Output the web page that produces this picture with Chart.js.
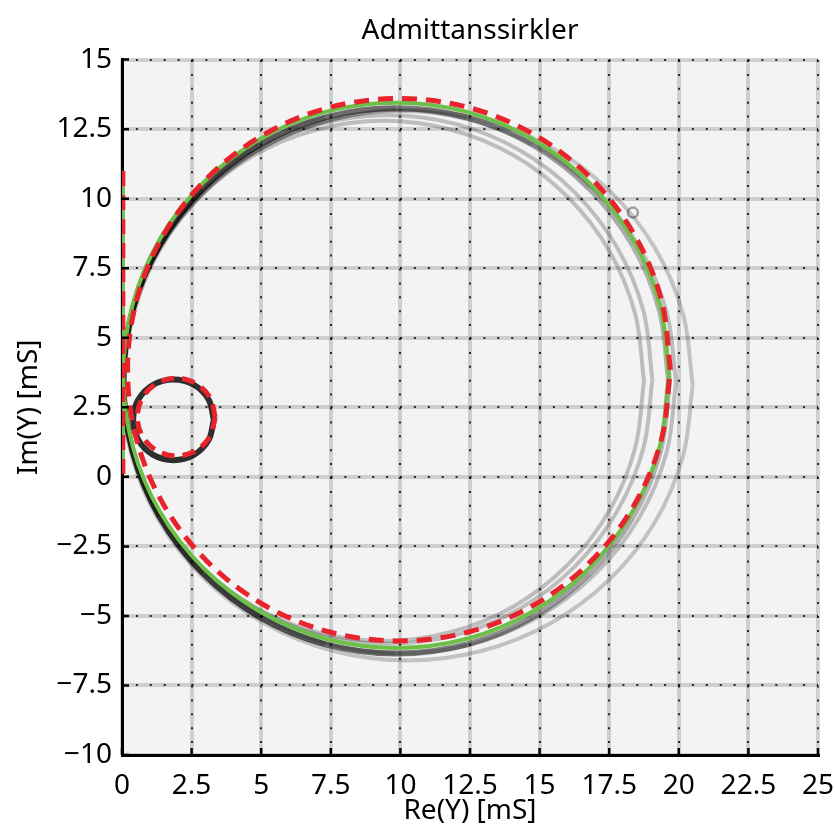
<!doctype html>
<html>
<head>
<meta charset="utf-8">
<script src="https://cdn.jsdelivr.net/npm/chart.js@4.4.1/dist/chart.umd.min.js"></script>
<style>
  body { margin: 0; background: #fff; }
  #wrap { width: 835px; height: 832px; }
</style>
</head>
<body>
<div id="wrap"><canvas id="admittance"></canvas></div>
<script>
// tick positions, mS
const reTicks = [0, 2.5, 5, 7.5, 10, 12.5, 15, 17.5, 20, 22.5, 25];
const imTicks = [-10, -7.5, -5, -2.5, 0, 2.5, 5, 7.5, 10, 12.5, 15];

// fitted circles, [Re(Y), Im(Y)]
const fitGreen = [
  [19.65, 3.65], [19.32, 6.19], [18.34, 8.55], [16.78, 10.58], [14.75, 12.14], [12.39, 13.12],
  [9.85, 13.45], [7.31, 13.12], [4.95, 12.14], [2.92, 10.58], [1.36, 8.55], [0.38, 6.19],
  [0.05, 3.65], [0.38, 1.11], [1.36, -1.25], [2.92, -3.28], [4.95, -4.84], [7.31, -5.82],
  [9.85, -6.15], [12.39, -5.82], [14.75, -4.84], [16.78, -3.28], [18.34, -1.25], [19.32, 1.11]
];
const fitRed = [
  [19.70, 3.85], [19.37, 6.38], [18.39, 8.73], [16.84, 10.74], [14.83, 12.29], [12.48, 13.27],
  [9.95, 13.60], [7.42, 13.27], [5.07, 12.29], [3.06, 10.74], [1.51, 8.73], [0.53, 6.38],
  [0.20, 3.85], [0.53, 1.32], [1.51, -1.03], [3.06, -3.04], [5.07, -4.59], [7.42, -5.57],
  [9.95, -5.90], [12.48, -5.57], [14.83, -4.59], [16.84, -3.04], [18.39, -1.03], [19.37, 1.32]
];
const fitRedSmall = [
  [3.35, 2.15], [3.16, 2.85], [2.65, 3.36], [1.95, 3.55], [1.25, 3.36], [0.74, 2.85],
  [0.55, 2.15], [0.74, 1.45], [1.25, 0.94], [1.95, 0.75], [2.65, 0.94], [3.16, 1.45]
];
// line along the imaginary axis
const imAxisLine = [[0.03, 0.1], [0.03, 11.0]];

// measured traces in the scanned plot
const traceMain = [
  [19.65, 3.45], [19.32, 5.99], [18.34, 8.35], [16.78, 10.38], [14.75, 11.94], [12.39, 12.92],
  [9.85, 13.25], [7.31, 12.92], [4.95, 11.94], [2.92, 10.38], [1.36, 8.35], [0.38, 5.99],
  [0.05, 3.45], [0.38, 0.91], [1.36, -1.45], [2.92, -3.48], [4.95, -5.04], [7.31, -6.02],
  [9.85, -6.35], [12.39, -6.02], [14.75, -5.04], [16.78, -3.48], [18.34, -1.45], [19.32, 0.91]
];
const traceInner = [
  [18.75, 3.45], [18.43, 5.87], [17.50, 8.13], [16.01, 10.06], [14.08, 11.55], [11.82, 12.48],
  [9.40, 12.80], [6.98, 12.48], [4.72, 11.55], [2.79, 10.06], [1.30, 8.13], [0.37, 5.87],
  [0.05, 3.45], [0.37, 1.03], [1.30, -1.23], [2.79, -3.16], [4.72, -4.65], [6.98, -5.58],
  [9.40, -5.90], [11.82, -5.58], [14.08, -4.65], [16.01, -3.16], [17.50, -1.23], [18.43, 1.03]
];
const traceMid = [
  [19.05, 3.50], [18.73, 5.96], [17.78, 8.25], [16.27, 10.22], [14.30, 11.73], [12.01, 12.68],
  [9.55, 13.00], [7.09, 12.68], [4.80, 11.73], [2.83, 10.22], [1.32, 8.25], [0.37, 5.96],
  [0.05, 3.50], [0.37, 1.04], [1.32, -1.25], [2.83, -3.22], [4.80, -4.73], [7.09, -5.68],
  [9.55, -6.00], [12.01, -5.68], [14.30, -4.73], [16.27, -3.22], [17.78, -1.25], [18.73, 1.04]
];
const traceOuter = [
  [19.90, 3.40], [19.56, 5.93], [18.57, 8.28], [17.00, 10.29], [14.95, 11.84], [12.56, 12.82],
  [10.00, 13.15], [7.44, 12.82], [5.05, 11.84], [3.00, 10.29], [1.43, 8.28], [0.44, 5.93],
  [0.10, 3.40], [0.44, 0.87], [1.43, -1.48], [3.00, -3.49], [5.05, -5.04], [7.44, -6.02],
  [10.00, -6.35], [12.56, -6.02], [14.95, -5.04], [17.00, -3.49], [18.57, -1.48], [19.56, 0.87]
];
const traceOuter2 = [
  [20.50, 3.30], [20.15, 5.86], [19.13, 8.25], [17.50, 10.30], [15.38, 11.87], [12.90, 12.86],
  [10.25, 13.20], [7.60, 12.86], [5.12, 11.87], [3.00, 10.30], [1.37, 8.25], [0.35, 5.86],
  [0.00, 3.30], [0.35, 0.74], [1.37, -1.65], [3.00, -3.70], [5.12, -5.27], [7.60, -6.26],
  [10.25, -6.60], [12.90, -6.26], [15.38, -5.27], [17.50, -3.70], [19.13, -1.65], [20.15, 0.74]
];
const traceSmall = [
  [3.30, 2.05], [3.11, 2.78], [2.58, 3.31], [1.85, 3.50], [1.12, 3.31], [0.59, 2.78],
  [0.40, 2.05], [0.59, 1.32], [1.12, 0.79], [1.85, 0.60], [2.58, 0.79], [3.11, 1.32]
];
const spotMark = [[18.35, 9.5]];

const FONT = "'Noto Sans', 'DejaVu Sans', sans-serif";

function toPoints(list, close) {
  var pts = list.map(function (p) { return { x: p[0], y: p[1] }; });
  if (close) pts.push({ x: list[0][0], y: list[0][1] });
  return pts;
}

function curve(label, list, color, width, order, opts) {
  var ds = {
    label: label,
    data: toPoints(list, list.length > 2),
    showLine: true,
    borderColor: color,
    borderWidth: width,
    pointRadius: 0,
    fill: false,
    tension: list.length > 12 ? 0.34 : 0.35,
    order: order
  };
  return Object.assign(ds, opts || {});
}

function minus(v) {
  return v < 0 ? '\u2212' + Math.abs(v) : String(v);
}

// grey photo background inside the plot
const plotBg = {
  id: 'plotBg',
  beforeDraw(chart) {
    const a = chart.chartArea, ctx = chart.ctx;
    ctx.save();
    ctx.fillStyle = '#f3f3f3';
    ctx.fillRect(a.left, a.top, a.right - a.left, a.bottom - a.top);
    ctx.restore();
  }
};

// short ticks pointing into the plot
const innerTicks = {
  id: 'innerTicks',
  afterDraw(chart) {
    const ctx = chart.ctx, a = chart.chartArea;
    const xs = chart.scales.x, ys = chart.scales.y;
    ctx.save();
    ctx.strokeStyle = '#000';
    ctx.lineWidth = 2.5;
    ctx.beginPath();
    reTicks.forEach(function (v) {
      const px = xs.getPixelForValue(v);
      ctx.moveTo(px, a.bottom);
      ctx.lineTo(px, a.bottom - 7);
    });
    imTicks.forEach(function (v) {
      const py = ys.getPixelForValue(v);
      ctx.moveTo(a.left, py);
      ctx.lineTo(a.left + 7, py);
    });
    ctx.stroke();
    ctx.restore();
  }
};

function start() {
  const datasets = [
    curve('Tilpasset (rød)', fitRed, '#e8232b', 5, 0, { borderDash: [15, 9] }),
    curve('Imaginær akse (rød)', imAxisLine, '#e8232b', 5, 1, { borderDash: [15, 9] }),
    curve('Liten sirkel (rød)', fitRedSmall, '#e8232b', 5, 2, { borderDash: [13, 8] }),
    curve('Tilpasset (grønn)', fitGreen, '#6cbf47', 4, 3),
    curve('Imaginær akse (grønn)', imAxisLine, '#6cbf47', 4, 4),
    curve('Måling liten', traceSmall, 'rgba(10,10,10,0.85)', 6, 5),
    curve('Måling', traceMain, 'rgba(0,0,0,0.6)', 6, 6, {
      segment: {
        borderColor: function (c) {
          const x = Math.max(c.p0.parsed.x, c.p1.parsed.x);
          return 'rgba(0,0,0,' + (0.85 - 0.03 * x).toFixed(2) + ')';
        }
      }
    }),
    curve('Måling 2', traceMid, 'rgba(0,0,0,0.22)', 4, 7),
    curve('Måling 3', traceInner, 'rgba(0,0,0,0.22)', 4, 8),
    curve('Måling 4', traceOuter, 'rgba(0,0,0,0.22)', 4, 9),
    curve('Måling 5', traceOuter2, 'rgba(0,0,0,0.2)', 4, 10),
    {
      label: 'Flekk',
      data: toPoints(spotMark, false),
      showLine: false,
      pointRadius: 5,
      pointBorderWidth: 2.5,
      pointBorderColor: 'rgba(0,0,0,0.35)',
      pointBackgroundColor: 'rgba(0,0,0,0)',
      order: 11
    }
  ];

  const tickFont = { family: FONT, size: 28 };

  new Chart(document.getElementById('admittance'), {
    type: 'scatter',
    data: { datasets: datasets },
    options: {
      responsive: true,
      maintainAspectRatio: false,
      animation: false,
      layout: { padding: { left: 0, right: 17, top: 0, bottom: 0 } },
      plugins: {
        legend: { display: false },
        tooltip: { enabled: false },
        title: {
          display: true,
          text: 'Admittanssirkler',
          color: '#000',
          fullSize: false,
          font: { family: FONT, size: 28, weight: 'normal' },
          padding: { top: 14, bottom: 12 }
        }
      },
      scales: {
        x: {
          type: 'linear', position: 'bottom', min: 0, max: 25,
          afterBuildTicks: function (s) { s.ticks = reTicks.map(function (v) { return { value: v }; }); },
          afterFit: function (s) { s.height = 77; s.paddingLeft = 0; s.paddingRight = 0; },
          ticks: { font: tickFont, color: '#000', padding: 14, maxRotation: 0, callback: minus },
          grid: { color: 'rgba(150,150,150,0.4)', lineWidth: 4, drawTicks: false },
          border: { color: '#000', width: 3 },
          title: { display: true, text: 'Re(Y) [mS]', color: '#000', font: tickFont, padding: { top: 0, bottom: 4 } }
        },
        y: {
          type: 'linear', position: 'left', min: -10, max: 15,
          afterBuildTicks: function (s) { s.ticks = imTicks.map(function (v) { return { value: v }; }); },
          afterFit: function (s) { s.width = 122; s.paddingTop = 0; s.paddingBottom = 0; },
          ticks: { font: tickFont, color: '#000', padding: 10, callback: minus },
          grid: { color: 'rgba(150,150,150,0.4)', lineWidth: 4, drawTicks: false },
          border: { color: '#000', width: 3 },
          title: { display: true, text: 'Im(Y) [mS]', color: '#000', font: tickFont, padding: { top: 12, bottom: 0 } }
        },
        // dotted rulings of the scanned paper
        x2: {
          type: 'linear', position: 'top', min: 0, max: 25,
          afterBuildTicks: function (s) { s.ticks = reTicks.map(function (v) { return { value: v }; }); },
          afterFit: function (s) { s.height = 0; },
          ticks: { display: false },
          grid: { color: 'rgba(0,0,0,0.8)', lineWidth: 2, drawTicks: false },
          border: { display: false, dash: [2, 11.9] }
        },
        y2: {
          type: 'linear', position: 'right', min: -10, max: 15,
          afterBuildTicks: function (s) { s.ticks = imTicks.map(function (v) { return { value: v }; }); },
          afterFit: function (s) { s.width = 0; },
          ticks: { display: false },
          grid: { color: 'rgba(0,0,0,0.8)', lineWidth: 2, drawTicks: false },
          border: { display: false, dash: [2, 11.9] }
        }
      }
    },
    plugins: [plotBg, innerTicks]
  });
}

start();
</script>
</body>
</html>
